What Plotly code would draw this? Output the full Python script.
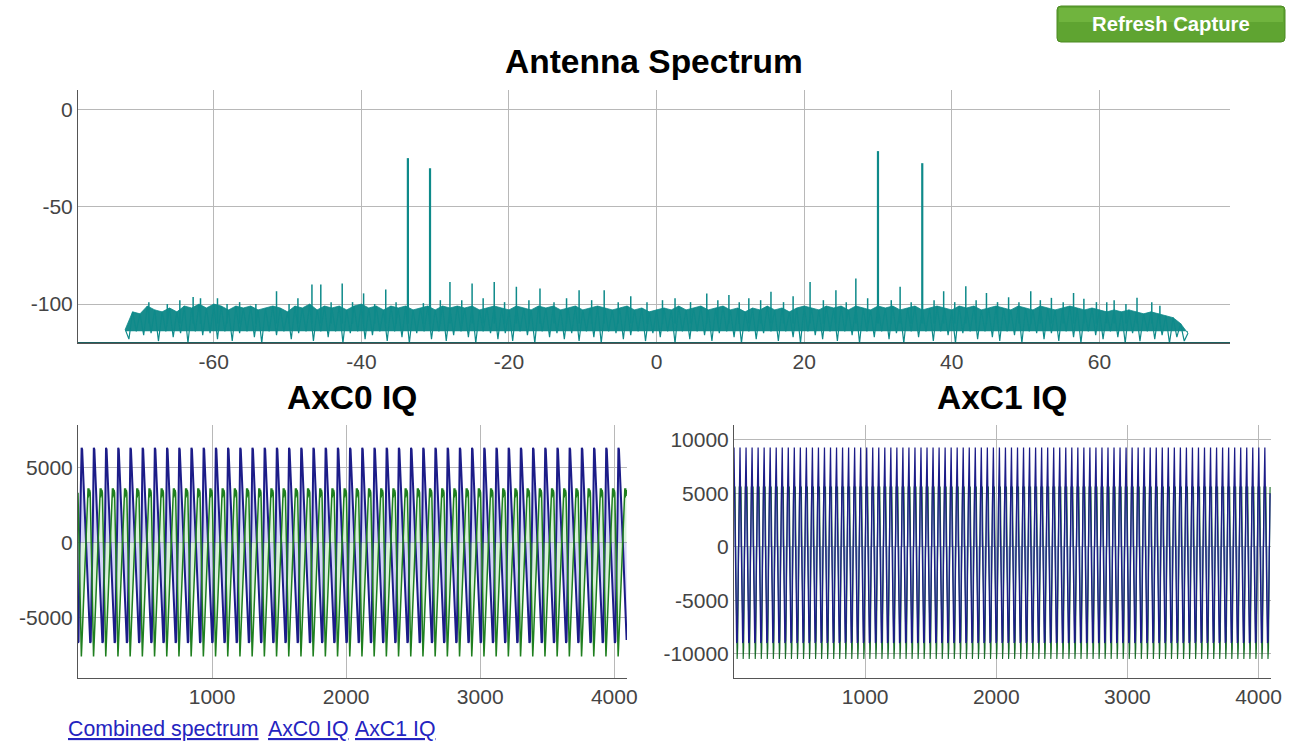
import numpy as np
import plotly.graph_objects as go

# ---------------- data ----------------
# Antenna spectrum: local peaks of the noise band, 1 MHz steps (dB)
noise_freq = list(range(-72, 73))
noise_top = [
    -113, -104, -105, -101, -103, -104, -102, -104, -101, -102,   # -72..-63
    -100, -102, -100, -101, -103, -101, -102, -101, -103, -102,   # -62..-53
    -101, -102, -104, -101, -102, -100, -103, -101, -102, -101,   # -52..-43
    -103, -101, -100, -102, -101, -103, -101, -102, -101, -103,   # -42..-33
    -102, -101, -103, -101, -102, -101, -102, -101, -103, -102,   # -32..-23
    -101, -102, -103, -101, -102, -103, -101, -102, -101, -103,   # -22..-13
    -102, -101, -103, -102, -101, -102, -103, -102, -101, -103,   # -12..-3
    -102, -104, -103, -102, -103, -101, -103, -102, -101, -103,   # -2..7
    -102, -101, -103, -102, -104, -102, -103, -101, -103, -102,   # 8..17
    -104, -102, -101, -102, -103, -101, -102, -101, -103, -101,   # 18..27
    -102, -103, -101, -102, -101, -103, -102, -101, -103, -102,   # 28..37
    -101, -102, -103, -101, -102, -101, -103, -102, -101, -102,   # 38..47
    -103, -101, -102, -103, -101, -102, -103, -102, -101, -102,   # 48..57
    -103, -102, -103, -104, -103, -104, -103, -104, -105, -104,   # 58..67
    -105, -106, -107, -110, -115,                                 # 68..72
]
# local dips of the noise between those peaks (at -71.5 ... 71.5 MHz)
noise_dip = [
    -118, -114, -116, -115, -119, -114, -117, -115, -120, -114, -116, -115,
    -118, -114, -119, -115, -114, -117, -120, -114, -116, -114, -118, -115,
    -114, -119, -114, -117, -114, -120, -115, -114, -118, -116, -114, -119,
    -114, -117, -120, -115, -114, -118, -114, -119, -116, -114, -117, -120,
    -114, -115, -118, -115, -119, -114, -116, -120, -114, -117, -115, -118,
    -115, -119, -114, -117, -120, -114, -115, -118, -116, -114, -119, -115,
    -117, -114, -120, -114, -118, -114, -116, -119, -115, -114, -117, -120,
    -114, -118, -115, -114, -119, -114, -117, -120, -114, -116, -118, -114,
    -119, -114, -116, -120, -114, -117, -114, -118, -115, -120, -114, -117,
    -114, -119, -114, -116, -120, -115, -114, -118, -114, -117, -119, -114,
    -116, -120, -114, -115, -118, -115, -119, -114, -117, -120, -114, -116,
    -118, -114, -117, -120, -115, -119, -114, -118, -116, -120, -117, -119,
]
noise_body = -114   # the band is dense down to about this level
noise_floor = -120

# Spikes standing out of the noise band (MHz, dB)
spike_freq = [-68.8, -66.3, -64.6, -62.8, -61.8, -59.5, -58.2, -56.5, -54.3, -51.5,
              -49.8, -48.6, -46.7, -45.5, -44.1, -42.6, -41.2, -39.7, -38.2, -36.7,
              -35.3, -31.6, -29.3, -28.0, -26.4, -25.0, -23.5, -22.0, -20.6, -19.0,
              -17.3, -15.8, -13.9, -12.2, -10.5, -8.8, -7.1, -5.2, -3.5, -1.3,
              0.8, 2.5, 4.6, 6.8, 8.3, 9.8, 11.2, 12.5, 14.1, 15.5, 17.2, 18.5,
              20.8, 22.6, 24.3, 25.7, 27.0, 28.6, 31.8, 33.0, 34.5, 37.6, 38.9,
              40.4, 41.9, 43.3, 44.7, 46.2, 47.7, 49.1, 50.7, 52.0, 53.5, 55.1,
              56.5, 57.9, 59.6, 61.0, 62.0, 63.6, 65.1, 67.1, 68.2]
spike_level = [-99, -100, -98, -96.3, -97, -97, -100, -99, -100, -93.4,
               -100, -97, -89.9, -89.9, -99, -89.4, -99, -94.5, -100, -92.5,
               -99, -99.5, -98, -88.6, -98, -89.4, -97, -88.6, -99, -91.1,
               -98, -92, -99, -97, -92.9, -98, -92.9, -99, -96, -99,
               -98, -97, -99, -94.6, -98, -95.4, -99, -97, -98, -93.7, -99, -96,
               -88.6, -98, -92.9, -99, -86.8, -97, -98, -91.1, -99, -98, -93.4,
               -99, -90.8, -98, -94.3, -99, -96.5, -99, -93.4, -98, -96.8, -99,
               -94.3, -97.3, -99, -99, -98, -100, -96.8, -99, -100.8]
spike_base = -110

# Strong carriers
peak_freq = [-33.7, -30.7, 30.0, 36.0]
peak_level = [-25.0, -30.2, -21.4, -27.6]

# AxC0 IQ: one period of the waveform (sample offset, value), repeated
axc0_period = 91
axc0_cycles = 45
axc0_i_off = [0, 4, 10, 13, 17, 20, 27, 31, 60, 88]
axc0_i_val = [-6700, -6600, -1500, -100, 100, 1500, 6300, 6200, 0, -6500]
axc0_q_off = [0, 3, 22, 25, 28, 50, 72, 75, 78, 81, 84, 87]
axc0_q_val = [3300, 2000, -7400, -7600, -7000, -2000, 3000, 3600, 3000, 3600, 3100, 3500]

# AxC1 IQ: one period (sample offset, value), repeated
axc1_period = 46
axc1_cycles = 89
axc1_i_off = [0, 4, 20, 25, 40]
axc1_i_val = [9300, 5000, -9000, -8800, 5000]
axc1_q_off = [0, 8, 14, 24, 28, 40]
axc1_q_val = [5600, 5600, -2000, -10500, -9500, 5600]

n_samples = 4096

# tick labels
spec_xticks = [-60, -40, -20, 0, 20, 40, 60]
spec_yticks = [0, -50, -100]
iq_xticks = [1000, 2000, 3000, 4000]
axc0_yticks = [5000, 0, -5000]
axc1_yticks = [10000, 5000, 0, -5000, -10000]


def tile(offs, vals, period, cycles):
    xs, ys = [], []
    for c in range(cycles):
        for o, v in zip(offs, vals):
            s = c * period + o
            if s < n_samples:
                xs.append(s)
                ys.append(v)
    return xs, ys


TEAL = "#0e8a8a"
BLUE = "#1c1c88"
GREEN = "#1f7f1f"
GRID = "#b8b8b8"
AXIS = "#555555"
FONT = "Liberation Sans, Arial, sans-serif"

fig = go.Figure()

# ---- spectrum ----
fig.add_trace(go.Scatter(x=noise_freq, y=[noise_body] * len(noise_freq),
                         mode="lines", line=dict(width=0, color=TEAL),
                         xaxis="x", yaxis="y", showlegend=False, hoverinfo="skip"))
fig.add_trace(go.Scatter(x=noise_freq, y=noise_top, mode="lines",
                         line=dict(width=0.8, color=TEAL), fill="tonexty",
                         fillcolor="rgba(12,134,134,0.95)",
                         xaxis="x", yaxis="y", showlegend=False))
zx, zy = [], []
for i, (f, v) in enumerate(zip(noise_freq, noise_top)):
    zx.append(f)
    zy.append(v)
    if i < len(noise_dip):
        zx.append(f + 0.5)
        zy.append(noise_dip[i])
fig.add_trace(go.Scatter(x=zx, y=zy, mode="lines", line=dict(width=1.2, color=TEAL),
                         xaxis="x", yaxis="y", showlegend=False))
sx, sy = [], []
for f, v in zip(spike_freq, spike_level):
    sx += [f, f, None]
    sy += [spike_base, v, None]
fig.add_trace(go.Scatter(x=sx, y=sy, mode="lines", line=dict(width=1.5, color=TEAL),
                         xaxis="x", yaxis="y", showlegend=False))
px, py = [], []
for f, v in zip(peak_freq, peak_level):
    px += [f, f, None]
    py += [spike_base, v, None]
fig.add_trace(go.Scatter(x=px, y=py, mode="lines", line=dict(width=2.2, color=TEAL),
                         xaxis="x", yaxis="y", showlegend=False))
# floor line along the bottom
fig.add_trace(go.Scatter(x=[-78.4, 77.7], y=[noise_floor, noise_floor], mode="lines",
                         line=dict(width=2, color="#1d5f5f"),
                         xaxis="x", yaxis="y", showlegend=False, hoverinfo="skip"))

# ---- AxC0 ----
x0i, y0i = tile(axc0_i_off, axc0_i_val, axc0_period, axc0_cycles)
x0q, y0q = tile(axc0_q_off, axc0_q_val, axc0_period, axc0_cycles)
fig.add_trace(go.Scatter(x=x0i, y=y0i, mode="lines", line=dict(width=2, color=BLUE),
                         fill="tozeroy", fillcolor="rgba(100,100,225,0.28)",
                         xaxis="x2", yaxis="y2", showlegend=False))
fig.add_trace(go.Scatter(x=x0q, y=y0q, mode="lines", line=dict(width=1.5, color=GREEN),
                         fill="tozeroy", fillcolor="rgba(80,190,80,0.22)",
                         xaxis="x2", yaxis="y2", showlegend=False))

# ---- AxC1 ----
x1i, y1i = tile(axc1_i_off, axc1_i_val, axc1_period, axc1_cycles)
x1q, y1q = tile(axc1_q_off, axc1_q_val, axc1_period, axc1_cycles)
fig.add_trace(go.Scatter(x=x1q, y=y1q, mode="lines", line=dict(width=1.1, color="#1b6e2a"),
                         fill="tozeroy", fillcolor="rgba(80,200,80,0.22)",
                         xaxis="x3", yaxis="y3", showlegend=False))
fig.add_trace(go.Scatter(x=x1i, y=y1i, mode="lines", line=dict(width=1.25, color=BLUE),
                         fill="tozeroy", fillcolor="rgba(100,100,225,0.30)",
                         xaxis="x3", yaxis="y3", showlegend=False))

W, H = 1291, 743


def fx(px_):
    return px_ / W


def fy(py_):
    return 1 - py_ / H


tickfont = dict(family=FONT, size=21, color="#444444")
common = dict(showgrid=True, gridcolor=GRID, gridwidth=1, zeroline=False,
              showline=True, linecolor=AXIS, linewidth=1, ticks="",
              tickfont=tickfont, fixedrange=True)

fig.update_layout(
    width=W, height=H, autosize=False,
    margin=dict(l=0, r=0, t=0, b=0, autoexpand=False),
    paper_bgcolor="white", plot_bgcolor="white",
    font=dict(family=FONT),
    xaxis=dict(common, domain=[fx(78), fx(1230)], range=[-78.4, 77.7],
               tickvals=spec_xticks, ticktext=[str(v) for v in spec_xticks],
               anchor="y"),
    yaxis=dict(common, domain=[fy(343), fy(90)], range=[-120, 10],
               tickvals=spec_yticks, ticktext=[str(v) for v in spec_yticks],
               anchor="x"),
    xaxis2=dict(common, domain=[fx(78), fx(627)], range=[0, 4095],
                tickvals=iq_xticks, ticktext=[str(v) for v in iq_xticks], anchor="y2"),
    yaxis2=dict(common, domain=[fy(678), fy(425)], range=[-9030, 7820],
                tickvals=axc0_yticks, ticktext=[str(v) for v in axc0_yticks], anchor="x2"),
    xaxis3=dict(common, domain=[fx(734), fx(1271)], range=[0, 4095],
                tickvals=iq_xticks, ticktext=[str(v) for v in iq_xticks], anchor="y3"),
    yaxis3=dict(common, domain=[fy(678), fy(425)], range=[-12280, 11400],
                tickvals=axc1_yticks, ticktext=[str(v) for v in axc1_yticks], anchor="x3"),
)

title_font = dict(family=FONT, size=33.5, color="#000000")
annotations = [
    dict(text="<b>Antenna Spectrum</b>", x=fx(654), y=fy(62), font=title_font),
    dict(text="<b>AxC0 IQ</b>", x=fx(352), y=fy(397), font=title_font),
    dict(text="<b>AxC1 IQ</b>", x=fx(1002), y=fy(397), font=title_font),
    dict(text="<b>Refresh Capture</b>", x=fx(1171), y=fy(24),
         font=dict(family=FONT, size=20.3, color="white")),
]
link_font = dict(family=FONT, size=21.3, color="#2424c0")
annotations += [
    dict(text="<u>Combined spectrum</u>", x=fx(66), y=fy(729), xanchor="left", font=link_font),
    dict(text="<u>AxC0 IQ</u>", x=fx(266), y=fy(729), xanchor="left", font=link_font),
    dict(text="<u>AxC1 IQ</u>", x=fx(353), y=fy(729), xanchor="left", font=link_font),
]
for a in annotations:
    a.setdefault("xanchor", "center")
    a.update(xref="paper", yref="paper", yanchor="middle", showarrow=False)
fig.update_layout(annotations=annotations)


# Refresh Capture button (rounded rectangle with a lighter upper half)
def rounded(x0b, x1b, y0b, y1b, r):
    return (f"M {fx(x0b + r)} {fy(y0b)} L {fx(x1b - r)} {fy(y0b)} "
            f"Q {fx(x1b)} {fy(y0b)} {fx(x1b)} {fy(y0b + r)} "
            f"L {fx(x1b)} {fy(y1b - r)} Q {fx(x1b)} {fy(y1b)} {fx(x1b - r)} {fy(y1b)} "
            f"L {fx(x0b + r)} {fy(y1b)} Q {fx(x0b)} {fy(y1b)} {fx(x0b)} {fy(y1b - r)} "
            f"L {fx(x0b)} {fy(y0b + r)} Q {fx(x0b)} {fy(y0b)} {fx(x0b + r)} {fy(y0b)} Z")


fig.update_layout(shapes=[
    dict(type="path", path=rounded(1057, 1285, 6, 42, 4), xref="paper", yref="paper",
         fillcolor="#5fa431", line=dict(color="#4c8a22", width=1), layer="below"),
    dict(type="rect", x0=fx(1059), x1=fx(1283), y0=fy(22), y1=fy(8), xref="paper",
         yref="paper", fillcolor="#70b43e", line=dict(width=0), layer="below"),
])

fig.write_html(
    "out.html",
    config={"displayModeBar": False, "responsive": False},
    post_script="document.body.style.margin='0';document.body.style.padding='0';"
                "document.documentElement.style.overflow='hidden';",
)
